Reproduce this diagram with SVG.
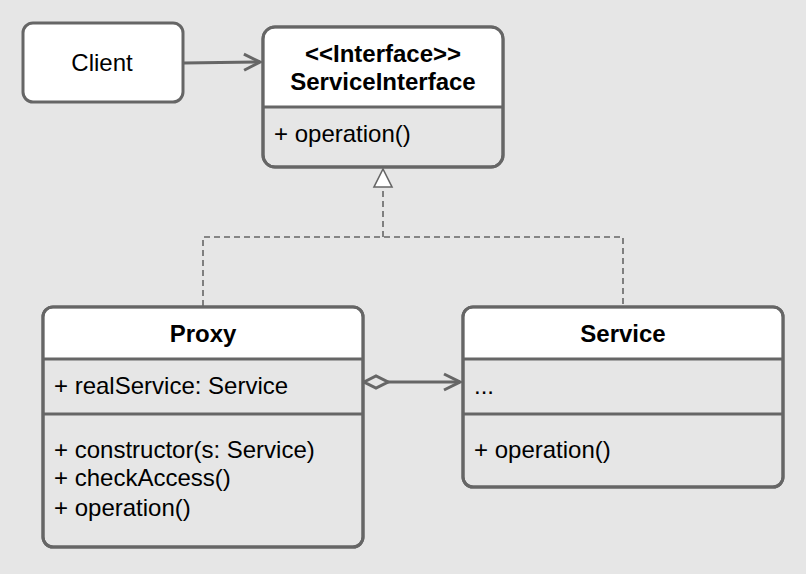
<svg xmlns="http://www.w3.org/2000/svg" width="806" height="574" viewBox="0 0 806 574">
<defs>
<style>
.box{fill:#e6e6e6;stroke:#666;stroke-width:3}
.hdr{fill:#fff}
.ln{stroke:#666;stroke-width:3;fill:none}
.dash{stroke:#666;stroke-width:1.6;fill:none;stroke-dasharray:6 4}
text{font-family:"Liberation Sans",Arial,sans-serif;font-size:24px;fill:#000}
.b{font-weight:bold;text-anchor:middle}
.c{text-anchor:middle}
</style>
<marker id="open" viewBox="0 0 20 20" refX="18" refY="10" markerWidth="20" markerHeight="20" markerUnits="userSpaceOnUse" orient="auto">
<path d="M2,2 L18,10 L2,18" fill="none" stroke="#666" stroke-width="3"/>
</marker>
<marker id="dia" viewBox="0 0 28 16" refX="1" refY="8" markerWidth="28" markerHeight="16" markerUnits="userSpaceOnUse" orient="auto">
<path d="M1,8 L13,2 L25,8 L13,14 Z" fill="#e6e6e6" stroke="#666" stroke-width="3"/>
</marker>
</defs>
<rect width="806" height="574" fill="#e6e6e6"/>
<g id="connectors">
<path class="ln" d="M184,63 L260,62" marker-end="url(#open)"/>
<path class="dash" d="M203,306 L203,237 L623,237 L623,306 M383,237 L383,188"/>
<path d="M383,169 L392,187 L374,187 Z" fill="#fff" stroke="#666" stroke-width="1.6"/>
<path class="ln" d="M364,382 L460,382" marker-start="url(#dia)" marker-end="url(#open)"/>
</g>
<g id="client">
<rect x="23" y="23" width="160" height="79" rx="10" fill="#fff" stroke="#666" stroke-width="3"/>
<text class="c" x="102" y="71">Client</text>
</g>
<g id="serviceInterface">
<rect class="box" x="263" y="27" width="240" height="140" rx="12"/>
<path d="M264.5,107 L264.5,39 Q264.5,28.5 275,28.5 L491,28.5 Q501.5,28.5 501.5,39 L501.5,107 Z" class="hdr"/>
<rect x="263" y="27" width="240" height="140" rx="12" fill="none" stroke="#666" stroke-width="3"/>
<line class="ln" x1="263" y1="107" x2="503" y2="107"/>
<text class="b" x="383" y="62">&lt;&lt;Interface&gt;&gt;</text>
<text class="b" x="383" y="90">ServiceInterface</text>
<text x="274" y="142">+ operation()</text>
</g>
<g id="proxy">
<rect class="box" x="43" y="307" width="320" height="240" rx="10"/>
<path d="M44.5,359 L44.5,317 Q44.5,308.5 53,308.5 L353,308.5 Q361.5,308.5 361.5,317 L361.5,359 Z" class="hdr"/>
<rect x="43" y="307" width="320" height="240" rx="10" fill="none" stroke="#666" stroke-width="3"/>
<line class="ln" x1="43" y1="359" x2="363" y2="359"/>
<line class="ln" x1="43" y1="414" x2="363" y2="414"/>
<text class="b" x="203" y="342">Proxy</text>
<text x="54" y="394">+ realService: Service</text>
<text x="54" y="458">+ constructor(s: Service)</text>
<text x="54" y="486">+ checkAccess()</text>
<text x="54" y="516">+ operation()</text>
</g>
<g id="service">
<rect class="box" x="463" y="307" width="320" height="180" rx="10"/>
<path d="M464.5,359 L464.5,317 Q464.5,308.5 473,308.5 L773,308.5 Q781.5,308.5 781.5,317 L781.5,359 Z" class="hdr"/>
<rect x="463" y="307" width="320" height="180" rx="10" fill="none" stroke="#666" stroke-width="3"/>
<line class="ln" x1="463" y1="359" x2="783" y2="359"/>
<line class="ln" x1="463" y1="414" x2="783" y2="414"/>
<text class="b" x="623" y="342">Service</text>
<text x="474" y="394">...</text>
<text x="474" y="458">+ operation()</text>
</g>
</svg>
